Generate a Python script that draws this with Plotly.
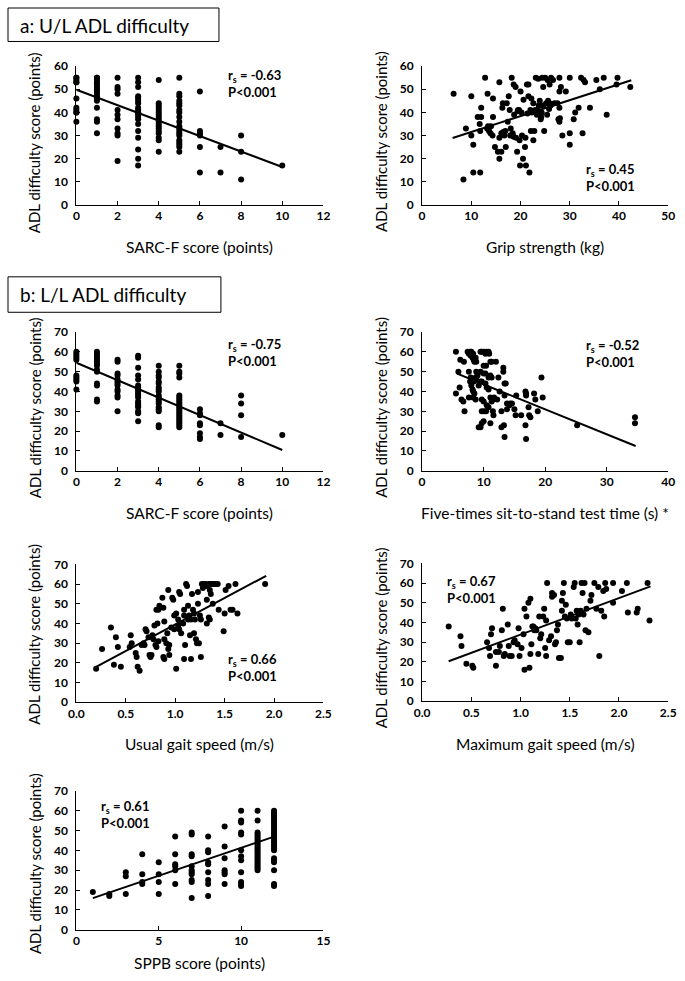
import plotly.graph_objects as go

# ---------------- data ----------------
# a1: SARC-F score vs U/L ADL difficulty
a1_scores = [0, 1, 2, 3, 4, 5, 6, 7, 8, 10]
a1_adl = [
    [55, 55, 54, 53, 53, 46, 42, 41, 40, 40, 36],
    [55, 55, 54, 53, 52, 51, 50, 49, 48, 47, 46, 45, 42, 37, 36, 31],
    [55, 51, 50, 48, 41, 39, 37, 33, 31, 30, 19],
    [55, 53, 51, 47, 46, 45, 44, 42, 41, 40, 40, 39, 38, 37, 35, 32, 29, 24, 20, 17],
    [54, 44, 43, 42, 41, 40, 39, 38, 37, 36, 35, 34, 33, 32, 31, 29, 28, 23],
    [55, 48, 47, 45, 44, 43, 41, 40, 38, 36, 34, 33, 32, 31, 30, 28, 27, 26, 25, 23],
    [49, 32, 31, 30, 25, 14],
    [25, 14],
    [30, 23, 11],
    [17],
]
a1_fit_x = [0, 10]
a1_fit_y = [49.8, 16.4]

# a2: Grip strength vs U/L ADL difficulty
a2_grip = [6.4, 8.4, 8.9, 10.0, 10.0, 10.4, 10.4, 11.8, 11.3, 12.0,
           12.0, 11.7, 11.8, 12.8, 13.3, 13.4, 13.6, 13.9, 14.3, 14.4,
           14.4, 14.8, 15.4, 15.7, 15.7, 16.1, 15.7, 16.1, 16.3, 16.4,
           16.7, 16.9, 17.0, 17.2, 17.4, 17.6, 17.8, 18.0, 18.2, 18.4,
           18.6, 18.7, 19.0, 19.1, 19.3, 19.5, 19.7, 19.8, 19.9, 20.0,
           20.2, 20.3, 20.5, 20.9, 21.0, 21.1, 21.3, 21.6, 21.6, 21.8,
           22.0, 22.1, 22.2, 22.3, 22.6, 22.6, 22.8, 23.0, 23.1, 23.3,
           23.5, 23.7, 23.9, 24.1, 24.3, 24.4, 24.6, 24.6, 24.8, 25.0,
           25.2, 25.4, 25.6, 25.9, 25.9, 26.2, 26.6, 26.9, 27.5, 27.7,
           27.9, 27.9, 27.9, 27.9, 28.2, 28.5, 29.2, 30.0, 30.0, 30.0,
           30.8, 31.1, 31.8, 32.3, 32.6, 32.8, 33.1, 34.1, 35.4, 36.1,
           36.9, 37.5, 39.5, 39.7, 42.3,
           17.9, 18.6, 21.4, 22.5, 24.2, 19.4, 20.6, 23.6, 25.5, 26.1,
           14.0, 13.2, 16.5, 25.8, 28.0]
a2_adl = [48, 11, 33, 47, 30, 26, 14, 14, 38, 38,
          42, 35, 32, 55, 48, 34, 32, 31, 30, 38,
          46, 25, 23, 20, 53, 23, 29, 31, 42, 44,
          30, 32, 25, 44, 36, 47, 41, 33, 55, 31,
          52, 39, 51, 29, 23, 41, 41, 28, 17, 49,
          40, 30, 20, 25, 29, 17, 52, 52, 47, 14,
          41, 32, 46, 40, 44, 28, 32, 41, 55, 39,
          41, 43, 45, 37, 40, 55, 43, 51, 32, 55,
          44, 39, 45, 52, 44, 55, 54, 44, 44, 37,
          55, 49, 42, 36, 51, 30, 49, 55, 31, 26,
          37, 40, 42, 55, 31, 54, 53, 42, 54, 50,
          55, 39, 52, 55, 51,
          30, 29.5, 39.5, 40.5, 38, 40.5, 45.5, 54.5, 54, 43,
          34, 33, 31.5, 41.5, 37.5]
a2_fit_x = [6.2, 42.5]
a2_fit_y = [28.9, 53.9]

# b1: SARC-F score vs L/L ADL difficulty
b1_scores = [0, 1, 2, 3, 4, 5, 6, 7, 8, 10]
b1_adl = [
    [60, 59, 58, 57, 56, 48, 47, 46, 45, 41],
    [60, 59, 58, 57, 56, 55, 54, 53, 51, 50, 44, 43, 36, 35],
    [56, 55, 49, 48, 46, 45, 44, 43, 41, 40, 38, 37, 30],
    [58, 57, 52, 48, 46, 43, 42, 41, 40, 39, 38, 37, 35, 34, 33, 32, 30, 29, 25],
    [53, 50, 48, 47, 45, 44, 42, 41, 40, 38, 37, 36, 35, 34, 32, 31, 30, 23, 22],
    [53, 50, 49, 47, 38, 37, 36, 35, 34, 33, 32, 31, 30, 29, 28, 27, 26, 25, 24, 23, 22],
    [31, 29, 28, 24, 23, 19, 17, 16],
    [24, 18],
    [38, 34, 28, 17],
    [18],
]
b1_fit_x = [0, 10]
b1_fit_y = [54.5, 10.5]

# b2: Five-times sit-to-stand time vs L/L ADL difficulty
b2_time = [5.5, 5.5, 5.9, 6.2, 6.1, 6.4, 6.7, 6.9, 6.8,
           7.4, 7.6, 7.8, 7.9, 8.0, 8.2, 8.3, 8.4, 8.5, 8.7, 8.8,
           7.6, 7.9, 7.8, 8.0, 8.2, 8.3, 8.4, 8.5, 8.3, 7.6, 8.7, 8.8, 9.0, 8.7, 8.8, 9.2,
           9.5, 9.7, 10.0, 10.5, 10.8, 10.3, 10.9, 10.0, 10.4, 11.1, 11.3, 12.0,
           9.5, 10.0, 10.3, 10.8, 11.1, 11.3, 9.5, 9.7, 10.3, 10.5, 10.8,
           9.7, 10.0, 10.5, 11.1, 11.3, 11.5, 11.7, 12.2,
           9.7, 10.1, 10.4, 10.8, 11.5, 11.6,
           9.2, 9.5, 9.7, 10.0, 11.1,
           12.4, 12.6, 13.2, 13.2, 13.4, 13.6, 13.4, 12.9, 13.8, 14.2, 14.3, 14.6, 15.0, 15.3,
           15.2, 13.8, 12.9, 13.3, 13.4,
           16.1, 16.8, 16.9, 16.9, 17.3, 17.4, 17.6, 16.8, 16.9,
           18.2, 18.4, 18.8, 19.4, 19.6, 25.2, 34.6, 34.6]
b2_adl = [60, 39, 50, 56, 42, 36, 35, 30, 55,
          60, 59, 60, 58, 60, 57, 59, 56, 55, 57, 55,
          50, 47, 45, 43, 41, 40, 45, 39, 37, 37, 47, 46, 48, 36, 50, 43,
          60, 60, 60, 60, 60, 59, 59, 53, 53, 55, 55, 55,
          50, 49, 49, 47, 48, 47, 45, 45, 44, 42, 41,
          36, 35, 33, 37, 35, 36, 37, 36,
          30, 30, 30, 32, 30, 28,
          22, 22, 24, 25, 24,
          47, 40, 52, 50, 44, 44, 38, 30, 34, 33, 34, 34, 31, 38,
          28, 31, 22, 23, 17,
          28, 40, 39, 38, 32, 28, 27, 23, 16,
          39, 36, 30, 47, 37, 23, 27, 24]
b2_fit_x = [5.7, 34.7]
b2_fit_y = [49.0, 12.5]

# b3: Usual gait speed vs L/L ADL difficulty
b3_speed = [0.20, 0.26, 0.35, 0.38, 0.40, 0.42, 0.45, 0.55, 0.56, 0.54,
            0.60, 0.61, 0.62, 0.64, 0.66, 0.68, 0.69, 0.70, 0.71, 0.73,
            0.74, 0.75, 0.76, 0.77, 0.78, 0.79, 0.80, 0.81, 0.82, 0.83,
            0.81, 0.83, 0.84, 0.88, 0.87, 0.89, 0.89, 0.91, 0.92, 0.93,
            0.93, 0.94, 0.88, 0.89, 0.94, 0.96, 0.97, 0.98, 0.99, 1.01,
            1.01, 1.03, 1.03, 1.04, 1.05, 1.06, 1.08, 1.09, 1.09, 1.10,
            1.11, 1.12, 1.13, 1.13, 1.14, 1.15, 1.16, 1.17, 1.18, 1.19,
            1.19, 1.20, 1.21, 1.22, 1.23, 1.23, 1.24, 1.25, 1.26, 1.26,
            1.27, 1.28, 1.29, 1.31, 1.32, 1.34, 1.35, 1.36, 1.36, 1.37,
            1.39, 1.41, 1.43, 1.34, 1.35, 1.32, 1.38, 1.32, 1.44, 1.49,
            1.50, 1.51, 1.54, 1.56, 1.58, 1.61, 1.63, 1.91, 1.04, 0.99,
            1.09, 1.16]
b3_adl = [17, 27, 38, 19, 33, 28, 18, 34, 30, 28,
          25, 23, 18, 16, 29, 30, 29, 37, 36, 33,
          24, 23, 24, 34, 32, 39, 29, 28, 40, 31,
          47, 47, 49, 48, 53, 41, 32, 30, 35, 57,
          27, 29, 23, 22, 24, 38, 53, 52, 37, 17,
          45, 42, 39, 56, 55, 35, 40, 44, 47, 29,
          60, 59, 42, 49, 44, 34, 42, 55, 47, 35,
          45, 42, 32, 30, 50, 56, 30, 44, 42, 23,
          60, 58, 60, 60, 59, 60, 57, 60, 55, 60,
          60, 60, 60, 43, 42, 40, 50, 52, 47, 36,
          45, 57, 59, 47, 47, 60, 45, 60, 37, 44,
          22, 22]
b3_fit_x = [0.2, 1.92]
b3_fit_y = [18.0, 64.2]

# b4: Maximum gait speed vs L/L ADL difficulty
b4_speed = [0.27, 0.39, 0.40, 0.45, 0.51, 0.52, 0.66, 0.68, 0.70, 0.71,
            0.69, 0.75, 0.75, 0.78, 0.79, 0.81, 0.82, 0.83, 0.84, 0.87,
            0.88, 0.89, 0.91, 0.93, 0.94, 0.97, 0.98, 0.99, 1.01, 1.03,
            1.04, 1.04, 1.06, 1.08, 1.09, 1.10, 1.10, 1.11, 1.12, 1.13,
            1.14, 1.15, 1.16, 1.18, 1.19, 1.20, 1.21, 1.23, 1.24, 1.25,
            1.26, 1.26, 1.27, 1.29, 1.31, 1.32, 1.32, 1.34, 1.35, 1.36,
            1.37, 1.38, 1.39, 1.41, 1.42, 1.42, 1.43, 1.44, 1.45, 1.46,
            1.47, 1.48, 1.50, 1.51, 1.52, 1.54, 1.55, 1.56, 1.57, 1.59,
            1.61, 1.62, 1.63, 1.64, 1.65, 1.66, 1.67, 1.69, 1.71, 1.72,
            1.75, 1.77, 1.79, 1.80, 1.82, 1.84, 1.85, 1.86, 1.87, 1.94,
            1.94, 2.03, 2.08, 2.09, 2.19, 2.18, 2.29, 2.31, 1.60, 1.58]
b4_adl = [38, 33, 28, 19, 18, 17, 30, 27, 34, 37,
          23, 25, 18, 25, 28, 36, 47, 23, 24, 39,
          28, 23, 23, 30, 31, 29, 37, 23, 27, 34,
          16, 47, 43, 50, 17, 52, 24, 29, 38, 38,
          36, 37, 36, 24, 43, 32, 34, 43, 47, 27,
          23, 41, 60, 31, 33, 55, 53, 54, 29, 30,
          36, 39, 22, 22, 46, 51, 55, 60, 43, 49,
          42, 30, 30, 44, 42, 58, 60, 42, 46, 44,
          46, 60, 55, 44, 60, 36, 47, 35, 51, 54,
          60, 47, 58, 23, 46, 56, 43, 60, 57, 60,
          50, 56, 60, 45, 47, 45, 60, 41, 30, 39]
b4_fit_x = [0.27, 2.32]
b4_fit_y = [20.3, 58.3]

# b5: SPPB score vs L/L ADL difficulty
b5_scores = [1, 2, 3, 4, 5, 6, 7, 8, 9, 10, 11, 12]
b5_adl = [
    [19],
    [18, 17],
    [29, 27, 18],
    [38, 28, 24, 23],
    [34, 28, 24, 18],
    [47, 38, 33, 32, 30, 23],
    [49, 48, 38, 37, 32, 30, 29, 28, 25, 24, 16],
    [47, 40, 39, 34, 33, 29, 25, 23, 17],
    [52, 42, 36, 30, 29, 28, 23],
    [60, 55, 54, 49, 48, 40, 37, 35, 29, 24, 23, 22],
    [60, 55, 49, 48, 47, 46, 45, 44, 43, 42, 41, 40, 39, 38, 37, 36, 35, 34, 33, 32, 31, 30],
    [60, 59, 58, 57, 56, 55, 54, 53, 52, 51, 50, 49, 48, 47, 46, 45, 44, 43, 42, 41, 40,
     36, 35, 34, 30, 23, 22],
]
b5_fit_x = [1, 12]
b5_fit_y = [15.9, 46.9]

y_title = "ADL difficulty score (points)"
x_titles = ["SARC-F score (points)", "Grip strength (kg)", "SARC-F score (points)",
            "Five-times sit-to-stand test time (s) *", "Usual gait speed (m/s)",
            "Maximum gait speed (m/s)", "SPPB score (points)"]
stat_texts = ["r<sub>s</sub> = -0.63<br>P&lt;0.001", "r<sub>s</sub> = 0.45<br>P&lt;0.001",
              "r<sub>s</sub> = -0.75<br>P&lt;0.001", "r<sub>s</sub> = -0.52<br>P&lt;0.001",
              "r<sub>s</sub> = 0.66<br>P&lt;0.001", "r<sub>s</sub> = 0.67<br>P&lt;0.001",
              "r<sub>s</sub> = 0.61<br>P&lt;0.001"]
section_titles = ["a: U/L ADL difficulty", "b: L/L ADL difficulty"]


def flatten(cats, groups):
    xs, ys = [], []
    for c, g in zip(cats, groups):
        for v in g:
            xs.append(c)
            ys.append(v)
    return xs, ys


a1_x, a1_y = flatten(a1_scores, a1_adl)
b1_x, b1_y = flatten(b1_scores, b1_adl)
b5_x, b5_y = flatten(b5_scores, b5_adl)

# ---------------- layout ----------------
W, H = 685, 981
FONT = "Lato"


def fx(p):
    return p / W


def fy(p):
    return 1 - p / H


panels = [
    # (xs, ys, fitx, fity, xpix, ypix, xmax, ymax, dtick, fmt, xtitle_pos, ytitle_pos, stat_pos)
    (a1_x, a1_y, a1_fit_x, a1_fit_y, (70, 323), (59, 200), 12, 60, 2, None, (196, 243), (27, 137), (223, 77)),
    (a2_grip, a2_adl, a2_fit_x, a2_fit_y, (424, 676), (59, 200), 50, 60, 10, None, (550, 243), (382, 136), (590, 172)),
    (b1_x, b1_y, b1_fit_x, b1_fit_y, (70, 323), (329, 470), 12, 70, 2, None, (196, 513), (27, 406), (223, 350)),
    (b2_time, b2_adl, b2_fit_x, b2_fit_y, (424, 676), (329, 470), 40, 70, 10, None, (550, 513), (382, 406), (590, 351)),
    (b3_speed, b3_adl, b3_fit_x, b3_fit_y, (70, 323), (565, 705), 2.5, 70, 0.5, ".1f", (196, 747), (27, 636), (223, 670)),
    (b4_speed, b4_adl, b4_fit_x, b4_fit_y, (424, 676), (564, 704), 2.5, 70, 0.5, ".1f", (550, 747), (382, 640), (447, 591)),
    (b5_x, b5_y, b5_fit_x, b5_fit_y, (70, 323), (795, 936), 15, 70, 5, None, (196, 970), (27, 869), (93, 819)),
]

fig = go.Figure()
layout = dict(
    width=W, height=H, margin=dict(l=0, r=0, t=0, b=0),
    paper_bgcolor="white", plot_bgcolor="white", showlegend=False,
    font=dict(family=FONT, color="black"),
)
annotations = []
shapes = []
tickfont = dict(family=FONT, size=12, color="black", weight="bold")

for i, (xs, ys, fxs, fys, xp, yp, xmax, ymax, dt, fmt, xtp, ytp, sp) in enumerate(panels):
    n = "" if i == 0 else str(i + 1)
    xa, ya = "x" + n, "y" + n
    fig.add_trace(go.Scatter(x=xs, y=ys, mode="markers", xaxis=xa, yaxis=ya,
                             marker=dict(size=6, color="black"), cliponaxis=False))
    fig.add_trace(go.Scatter(x=fxs, y=fys, mode="lines", xaxis=xa, yaxis=ya,
                             line=dict(color="black", width=2), cliponaxis=False))
    common = dict(showline=True, linecolor="black", linewidth=1, ticks="inside", ticklen=4,
                  tickcolor="black", showgrid=False, zeroline=False, tickfont=tickfont, tick0=0)
    layout["xaxis" + n] = dict(domain=[fx(xp[0]), fx(xp[1])], range=[0, xmax], dtick=dt,
                               anchor=ya, tickformat=fmt or "", **common)
    layout["yaxis" + n] = dict(domain=[fy(yp[1]), fy(yp[0])], range=[0, ymax], dtick=10,
                               anchor=xa, ticklabelstandoff=5, **common)
    annotations.append(dict(text=x_titles[i], x=fx(xtp[0]), y=fy(xtp[1]), xref="paper", yref="paper",
                            showarrow=False, xanchor="center", yanchor="middle",
                            font=dict(family=FONT, size=15.5, color="black")))
    annotations.append(dict(text=y_title, x=fx(ytp[0]), y=fy(ytp[1]), xref="paper", yref="paper",
                            showarrow=False, xanchor="center", yanchor="middle", textangle=-90,
                            font=dict(family=FONT, size=15, color="black")))
    annotations.append(dict(text=stat_texts[i], x=fx(sp[0]), y=fy(sp[1]), xref="paper", yref="paper",
                            showarrow=False, xanchor="left", yanchor="middle", align="left",
                            font=dict(family=FONT, size=13, color="black", weight="bold")))

# section boxes
for (bx0, by0, bx1, by1), txt, ty in zip([(0, 0, 216, 34), (0, 273, 218, 309)], section_titles, [18, 291]):
    shapes.append(dict(type="rect", xref="paper", yref="paper", x0=fx(bx0), x1=fx(bx1),
                       y0=fy(by1), y1=fy(by0), line=dict(color="black", width=1)))
    annotations.append(dict(text=txt, x=fx(10), y=fy(ty), xref="paper", yref="paper",
                            showarrow=False, xanchor="left", yanchor="middle",
                            font=dict(family=FONT, size=19, color="black")))

layout["annotations"] = annotations
layout["shapes"] = shapes
fig.update_layout(**layout)
fig.write_html("out.html", config={"displayModeBar": False},
               post_script="document.body.style.margin='0';")
